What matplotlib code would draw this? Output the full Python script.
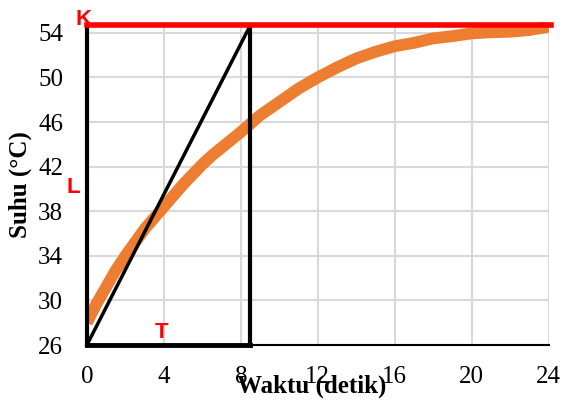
import matplotlib.pyplot as plt

# temperature readings
waktu = [0, 0.5, 1, 1.5, 2, 2.5, 3, 3.5, 4, 4.5, 5, 5.5, 6, 6.5, 7, 7.5, 8,
         9, 10, 11, 12, 13, 14, 15, 16, 17, 18, 19, 20, 21, 22, 23, 24]
suhu = [28.0, 29.7, 31.2, 32.7, 34.0, 35.2, 36.4, 37.4, 38.4, 39.4, 40.4, 41.3,
        42.2, 43.0, 43.7, 44.4, 45.1,
        46.6, 47.8, 49.0, 50.0, 50.9, 51.7, 52.3, 52.8, 53.1, 53.5, 53.7,
        53.95, 54.05, 54.1, 54.25, 54.55]

# tangent construction
K = 54.7
T_end = 8.5
y_start = 26

x_ticks = [0, 4, 8, 12, 16, 20, 24]
y_ticks = [26, 30, 34, 38, 42, 46, 50, 54]

plt.rcParams['font.family'] = ['Liberation Serif', 'DejaVu Serif']

fig = plt.figure(figsize=(5.64, 4.05), dpi=100)
ax = fig.add_axes([0.154, 0.148, 0.819, 0.7985])

ax.plot(waktu, suhu, color='#ED7D31', linewidth=8.5, solid_capstyle='butt',
        solid_joinstyle='round', zorder=3)

# red K line
ax.plot([0, 24.1], [K, K], color='#FF0000', linewidth=4, clip_on=False, zorder=5)
# black lines
ax.plot([0, 0], [y_start, 54.3], color='black', linewidth=3, clip_on=False, zorder=4)
ax.plot([T_end, T_end], [y_start, K], color='black', linewidth=3, clip_on=False, zorder=4)
ax.plot([0, T_end], [y_start, K], color='black', linewidth=2.5, clip_on=False, zorder=4)
ax.plot([0, T_end], [y_start, y_start], color='black', linewidth=3.5, clip_on=False, zorder=4)

ax.set_xlim(0, 24)
ax.set_ylim(26, 55)
ax.set_xticks(x_ticks)
ax.set_yticks(y_ticks)
ax.tick_params(length=0, labelsize=18)
ax.tick_params(axis='y', pad=17)
ax.tick_params(axis='x', pad=15)
ax.grid(color='#D9D9D9', linewidth=1.5)
ax.set_axisbelow(True)
for s in ['left', 'right', 'top']:
    ax.spines[s].set_visible(False)
ax.spines['bottom'].set_linewidth(1.5)

# gridline at right edge
ax.axvline(24, color='#D9D9D9', linewidth=1.5, zorder=0)

lbl = dict(color='#FF0000', fontsize=16, fontweight='bold', family='Liberation Sans',
           ha='center', va='center', clip_on=False)
ax.text(-0.18, 55.2, 'K', **lbl)
ax.text(-0.68, 40.1, 'L', **lbl)
ax.text(3.9, 27.1, 'T', **lbl)

fig.text(0.036, 0.545, 'Suhu (°C)', rotation=90, fontsize=18, fontweight='bold',
         ha='center', va='center')
fig.text(0.553, 0.045, 'Waktu (detik)', fontsize=18, fontweight='bold',
         ha='center', va='center')

fig.savefig('out.png', dpi=100)
